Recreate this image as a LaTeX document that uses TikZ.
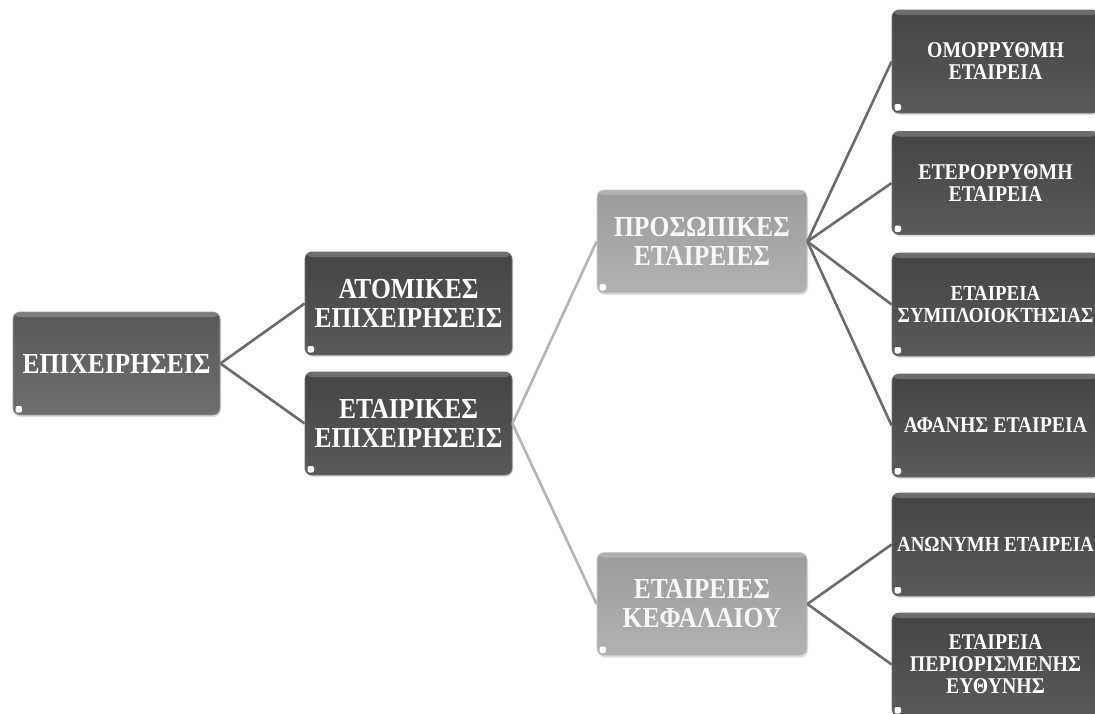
\documentclass[tikz,border=0pt]{standalone}
\usepackage{fontspec}
\setmainfont{Liberation Serif}
\newfontfamily\boxfont{Liberation Serif Bold}[FakeStretch=0.88]
\usetikzlibrary{shadows}
\definecolor{dkA}{HTML}{444444}
\definecolor{dkB}{HTML}{5A5A5A}
\definecolor{mdA}{HTML}{595959}
\definecolor{mdB}{HTML}{6E6E6E}
\definecolor{ltA}{HTML}{9B9B9B}
\definecolor{ltB}{HTML}{B2B2B2}
\definecolor{edgeDk}{HTML}{6B6B6B}
\definecolor{edgeLt}{HTML}{B4B4B4}
\tikzset{
  boxbase/.style={rounded corners=7pt, inner sep=0pt, align=center,
    minimum width=207pt, minimum height=103pt, text=white,
    drop shadow={shadow xshift=1pt, shadow yshift=-2pt, opacity=0.25},
    path picture={
      \fill[white,opacity=0.22] (path picture bounding box.north west) rectangle ([yshift=-5pt]path picture bounding box.north east);
      \fill[white,rounded corners=2pt] ([xshift=2.5pt,yshift=2.5pt]path picture bounding box.south west) rectangle ([xshift=9pt,yshift=9pt]path picture bounding box.south west);
    }},
  bigtxt/.style={font=\boxfont\fontsize{29}{29}\selectfont},
  smalltxt/.style={font=\boxfont\fontsize{22.5}{22}\selectfont},
  tighttxt/.style={font=\boxfont\fontsize{21.5}{22}\selectfont},
  darkbox/.style={boxbase, top color=dkA, bottom color=dkB, draw=edgeDk, line width=0.8pt},
  midbox/.style={boxbase, top color=mdA, bottom color=mdB, draw=gray!80, line width=0.8pt},
  lightbox/.style={boxbase, top color=ltA, bottom color=ltB, draw=gray!40, line width=0.8pt, text=white!97!black},
  dkline/.style={draw=edgeDk, line width=2.6pt},
  ltline/.style={draw=edgeLt, line width=2.6pt}
}
\begin{document}
\begin{tikzpicture}[x=1pt,y=-1pt]
\useasboundingbox (0,0) rectangle (1095,713);
\begin{scope}
\clip (0,0) rectangle (1095,713);
\node[midbox,bigtxt] (epix) at (116.5,363.5) {ΕΠΙΧΕΙΡΗΣΕΙΣ};
\node[darkbox,bigtxt] (atom) at (408.5,303.5) {ΑΤΟΜΙΚΕΣ\\ΕΠΙΧΕΙΡΗΣΕΙΣ};
\node[darkbox,bigtxt] (etair) at (408.5,423.5) {ΕΤΑΙΡΙΚΕΣ\\ΕΠΙΧΕΙΡΗΣΕΙΣ};
\node[lightbox,bigtxt,minimum width=210pt] (pros) at (702,241.5) {ΠΡΟΣΩΠΙΚΕΣ\\ΕΤΑΙΡΕΙΕΣ};
\node[lightbox,bigtxt,minimum width=210pt] (kef) at (702,604) {ΕΤΑΙΡΕΙΕΣ\\ΚΕΦΑΛΑΙΟΥ};
\node[darkbox,smalltxt] (r1) at (995.5,61.5) {ΟΜΟΡΡΥΘΜΗ\\ΕΤΑΙΡΕΙΑ};
\node[darkbox,smalltxt] (r2) at (995.5,183) {ΕΤΕΡΟΡΡΥΘΜΗ\\ΕΤΑΙΡΕΙΑ};
\node[darkbox,tighttxt] (r3) at (995.5,304.5) {ΕΤΑΙΡΕΙΑ\\ΣΥΜΠΛΟΙΟΚΤΗΣΙΑΣ};
\node[darkbox,smalltxt] (r4) at (995.5,425.5) {ΑΦΑΝΗΣ ΕΤΑΙΡΕΙΑ};
\node[darkbox,tighttxt] (r5) at (995.5,544.5) {ΑΝΩΝΥΜΗ ΕΤΑΙΡΕΙΑ};
\node[darkbox,smalltxt] (r6) at (995.5,664.5) {ΕΤΑΙΡΕΙΑ\\ΠΕΡΙΟΡΙΣΜΕΝΗΣ\\ΕΥΘΥΝΗΣ};
\draw[dkline] (epix.east) -- (atom.west);
\draw[dkline] (epix.east) -- (etair.west);
\draw[ltline] (etair.east) -- (pros.west);
\draw[ltline] (etair.east) -- (kef.west);
\foreach \r in {r1,r2,r3,r4} \draw[dkline] (pros.east) -- (\r.west);
\foreach \r in {r5,r6} \draw[dkline] (kef.east) -- (\r.west);
\end{scope}
\end{tikzpicture}
\end{document}
